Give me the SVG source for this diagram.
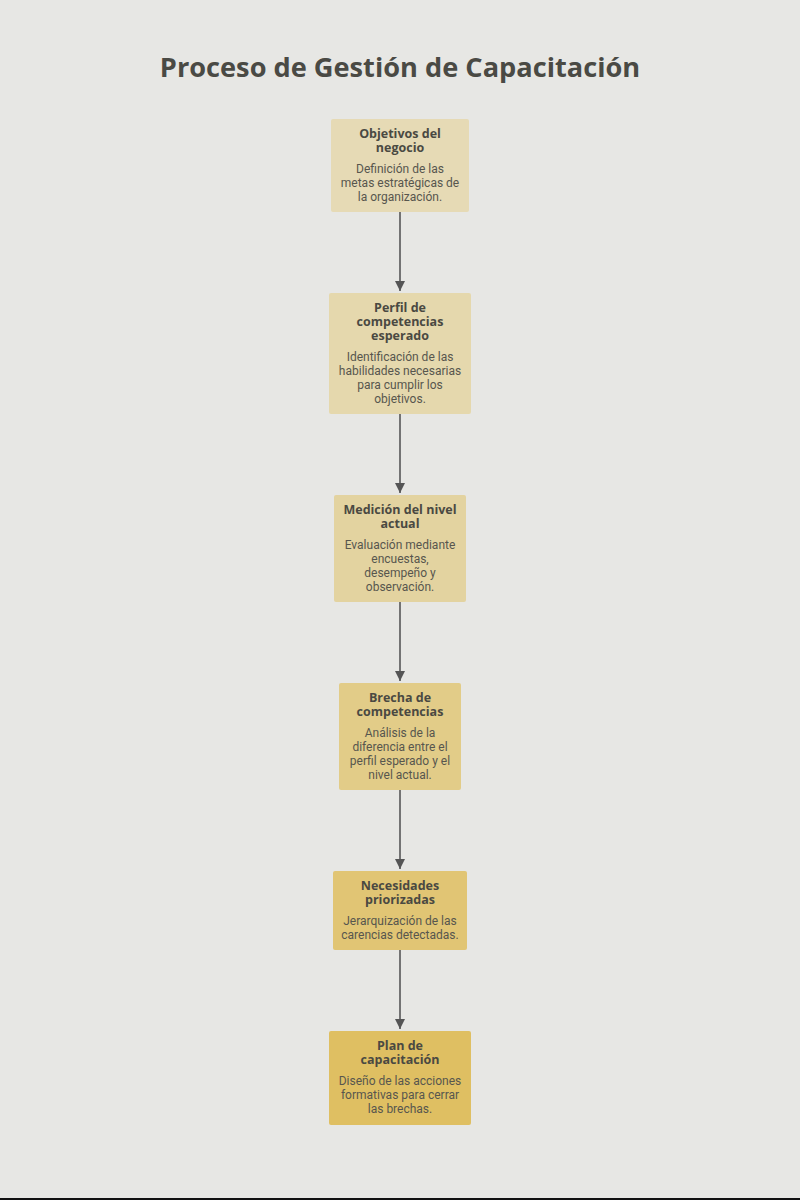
<svg xmlns="http://www.w3.org/2000/svg" width="800" height="1200" viewBox="0 0 800 1200">
<defs>
<style>
.bg{fill:#e7e7e4}
.node{stroke:none}
.t{font-family:"Open Sans","Noto Sans",sans-serif;font-weight:700;font-size:12.5px;fill:#4a4942;text-anchor:middle}
.d{font-family:Roboto,"Liberation Sans",sans-serif;font-size:12px;fill:#57564e;text-anchor:middle}
.title{font-family:"Open Sans","Noto Sans",sans-serif;font-weight:700;font-size:27.2px;fill:#4a4a44;text-anchor:middle}
.edge{stroke:#737373;stroke-width:2;fill:none}
</style>
<marker id="ah" viewBox="0 0 10 10" refX="10" refY="5" markerWidth="10" markerHeight="10" markerUnits="userSpaceOnUse" orient="auto">
<path d="M0,0 L10,5 L0,10 z" fill="#555"/>
</marker>
</defs>
<rect class="bg" x="0" y="0" width="800" height="1200"/>
<rect x="0" y="1198" width="800" height="2" fill="#111"/>
<text class="title" x="400" y="77">Proceso de Gestión de Capacitación</text>
<g id="connectors">
<line class="edge" x1="400" y1="212" x2="400" y2="291" marker-end="url(#ah)"/>
<line class="edge" x1="400" y1="414" x2="400" y2="493" marker-end="url(#ah)"/>
<line class="edge" x1="400" y1="602" x2="400" y2="681" marker-end="url(#ah)"/>
<line class="edge" x1="400" y1="790" x2="400" y2="869" marker-end="url(#ah)"/>
<line class="edge" x1="400" y1="950" x2="400" y2="1029" marker-end="url(#ah)"/>
</g>
<g id="n1">
<rect class="node" x="331" y="119" width="138" height="93" rx="2" fill="#e6dab5"/>
<text class="t" x="400" y="138">Objetivos del</text>
<text class="t" x="400" y="152">negocio</text>
<text class="d" x="400" y="173">Definición de las</text>
<text class="d" x="400" y="187">metas estratégicas de</text>
<text class="d" x="400" y="201">la organización.</text>
</g>
<g id="n2">
<rect class="node" x="329" y="293" width="142" height="121" rx="2" fill="#e5d8ad"/>
<text class="t" x="400" y="312">Perfil de</text>
<text class="t" x="400" y="326">competencias</text>
<text class="t" x="400" y="340">esperado</text>
<text class="d" x="400" y="361">Identificación de las</text>
<text class="d" x="400" y="375">habilidades necesarias</text>
<text class="d" x="400" y="389">para cumplir los</text>
<text class="d" x="400" y="403">objetivos.</text>
</g>
<g id="n3">
<rect class="node" x="334" y="495" width="132" height="107" rx="2" fill="#e3d3a0"/>
<text class="t" x="400" y="514">Medición del nivel</text>
<text class="t" x="400" y="528">actual</text>
<text class="d" x="400" y="549">Evaluación mediante</text>
<text class="d" x="400" y="563">encuestas,</text>
<text class="d" x="400" y="577">desempeño y</text>
<text class="d" x="400" y="591">observación.</text>
</g>
<g id="n4">
<rect class="node" x="339" y="683" width="122" height="107" rx="2" fill="#e2cc88"/>
<text class="t" x="400" y="702">Brecha de</text>
<text class="t" x="400" y="716">competencias</text>
<text class="d" x="400" y="737">Análisis de la</text>
<text class="d" x="400" y="751">diferencia entre el</text>
<text class="d" x="400" y="765">perfil esperado y el</text>
<text class="d" x="400" y="779">nivel actual.</text>
</g>
<g id="n5">
<rect class="node" x="333" y="871" width="134" height="79" rx="2" fill="#e1c574"/>
<text class="t" x="400" y="890">Necesidades</text>
<text class="t" x="400" y="904">priorizadas</text>
<text class="d" x="400" y="925">Jerarquización de las</text>
<text class="d" x="400" y="939">carencias detectadas.</text>
</g>
<g id="n6">
<rect class="node" x="329" y="1031" width="142" height="94" rx="2" fill="#dfbf62"/>
<text class="t" x="400" y="1050">Plan de</text>
<text class="t" x="400" y="1064">capacitación</text>
<text class="d" x="400" y="1085">Diseño de las acciones</text>
<text class="d" x="400" y="1099">formativas para cerrar</text>
<text class="d" x="400" y="1113">las brechas.</text>
</g>
</svg>
